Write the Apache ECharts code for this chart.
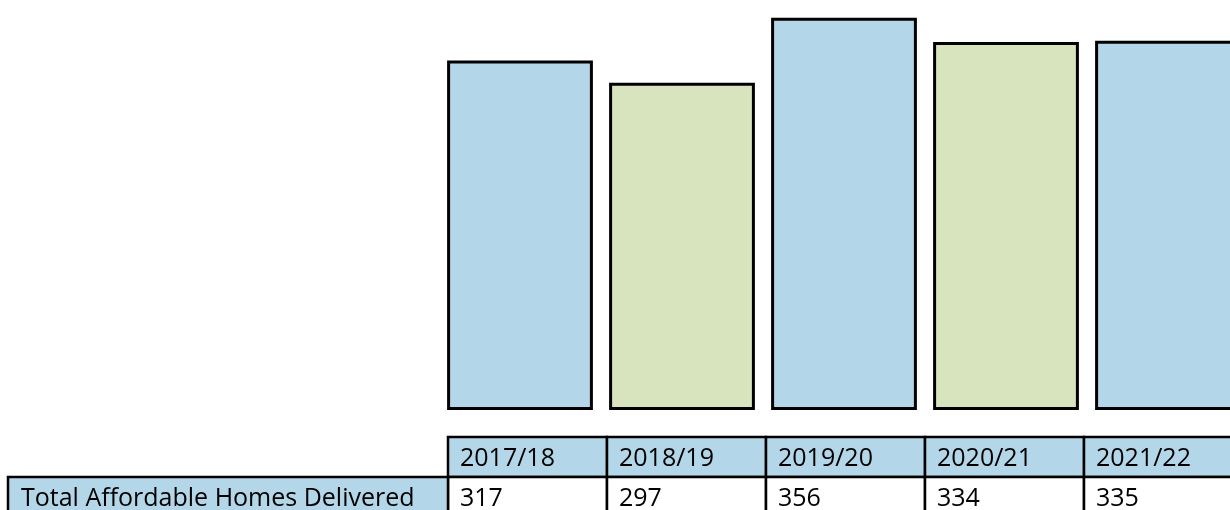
<!DOCTYPE html>
<html>
<head>
<meta charset="utf-8">
<script src="https://cdn.jsdelivr.net/npm/echarts@6/dist/echarts.min.js"></script>
<style>
html,body{margin:0;padding:0;background:#fff;overflow:hidden;width:1230px;height:510px;}
#chart{width:1249px;height:510px;}
</style>
</head>
<body>
<div id="chart"></div>
<script>
const categories = ['2017/18', '2018/19', '2019/20', '2020/21', '2021/22'];
const homesDelivered = [317, 297, 356, 334, 335];
const rowLabel = 'Total Affordable Homes Delivered';

const BLUE = '#b3d7e8';
const GREEN = '#d7e4bd';
const FONT = '"Open Sans", "Noto Sans", sans-serif';

const chart = echarts.init(document.getElementById('chart'), null, {renderer: 'canvas'});
chart.setOption({
  animation: false,
  backgroundColor: '#ffffff',
  grid: {left: 439, right: 0, top: 0, bottom: 100, containLabel: false},
  xAxis: {
    type: 'category', data: categories,
    axisLine: {show: false}, axisTick: {show: false}, axisLabel: {show: false}, splitLine: {show: false}
  },
  yAxis: {
    type: 'value', min: 0, max: 372,
    axisLine: {show: false}, axisTick: {show: false}, axisLabel: {show: false}, splitLine: {show: false}
  },
  series: [{
    type: 'bar',
    data: homesDelivered,
    barCategoryGap: '10%',
    itemStyle: {
      color: p => (p.dataIndex % 2 === 0 ? BLUE : GREEN),
      borderColor: '#000',
      borderWidth: 3
    }
  }]
});

// Build data table beneath the bars, aligned with the category axis
const centers = categories.map(c => chart.convertToPixel({xAxisIndex: 0}, c));
const colW = 159;
const x0 = centers[0] - 72;
const headY = 437, headH = 40;
const rowY = headY + headH, rowH = 45;
const fontSpec = '25px ' + FONT;
const graphics = [];
categories.forEach((c, i) => {
  const x = x0 + i * colW;
  graphics.push({
    type: 'rect', shape: {x: x, y: headY, width: colW, height: headH},
    style: {fill: BLUE, stroke: '#000', lineWidth: 2.5}, z: 10
  });
  graphics.push({
    type: 'text', x: x + 12, y: headY + 22,
    style: {text: c, font: fontSpec, fill: '#000', verticalAlign: 'middle', align: 'left'}, z: 12
  });
  graphics.push({
    type: 'rect', shape: {x: x, y: rowY, width: colW, height: rowH},
    style: {fill: '#fff', stroke: '#000', lineWidth: 2.5}, z: 10
  });
  graphics.push({
    type: 'text', x: x + 12, y: rowY + 22,
    style: {text: String(homesDelivered[i]), font: fontSpec, fill: '#000', verticalAlign: 'middle', align: 'left'}, z: 12
  });
});
graphics.push({
  type: 'rect', shape: {x: 8, y: rowY, width: x0 - 8, height: rowH},
  style: {fill: BLUE, stroke: '#000', lineWidth: 2.5}, z: 10
});
graphics.push({
  type: 'text', x: 21, y: rowY + 22,
  style: {text: rowLabel, font: fontSpec, fill: '#000', verticalAlign: 'middle', align: 'left'}, z: 12
});
chart.setOption({graphic: graphics});
</script>
</body>
</html>
